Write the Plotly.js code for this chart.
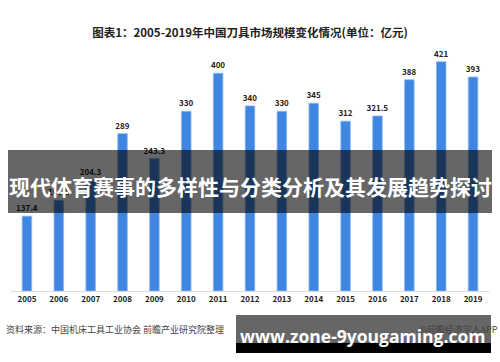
<!DOCTYPE html>
<html>
<head>
<meta charset="utf-8">
<script src="https://cdn.plot.ly/plotly-3.0.1.min.js"></script>
<style>html,body{margin:0;padding:0;background:#fff;}#chart{width:500px;height:362px;}</style>
</head>
<body>
<div id="chart"></div>
<script>
const years = ['2005','2006','2007','2008','2009','2010','2011','2012','2013','2014','2015','2016','2017','2018','2019'];
const marketSize = [137.4, 166.6, 204.3, 289, 243.3, 330, 400, 340, 330, 345, 312, 321.5, 388, 421, 393];
const valueLabels = ['137.4','166.6','204.3','289','243.3','330','400','340','330','345','312','321.5','388','421','393'];
const chartTitle = '图表1：2005-2019年中国刀具市场规模变化情况(单位：亿元)';
const sourceText = '资料来源：中国机床工具工业协会 前瞻产业研究院整理';
const creditText = '@前瞻经济学人APP';
const bannerText = '现代体育赛事的多样性与分类分析及其发展趋势探讨';
const urlText = 'www.zone-9yougaming.com';

const W = 500, H = 362;
const mL = 11, mR = 11, mT = 46, mB = 71;
const pw = W - mL - mR, ph = H - mT - mB;
const px = x => (x - mL) / pw;
const py = y => (H - mB - y) / ph;

const font = '"Noto Sans CJK SC", "Noto Sans", sans-serif';

const trace = {
  type: 'bar',
  x: years,
  y: marketSize,
  text: valueLabels,
  textposition: 'outside',
  constraintext: 'none',
  cliponaxis: false,
  textfont: {family: font, size: 8, color: '#222', weight: 'bold'},
  marker: {color: '#3f86e2', line: {color: '#8fb8ef', width: 0.8}},
  hoverinfo: 'skip'
};

const layout = {
  width: W, height: H,
  margin: {l: mL, r: mR, t: mT, b: mB},
  paper_bgcolor: '#ffffff',
  plot_bgcolor: '#ffffff',
  bargap: 0.7,
  showlegend: false,
  title: {
    text: '<b>' + chartTitle + '</b>',
    font: {family: font, size: 11.5, color: '#222'},
    x: 0.5, xanchor: 'center',
    y: 1 - 33 / H, yref: 'container', yanchor: 'middle'
  },
  xaxis: {
    type: 'category',
    showgrid: false,
    zeroline: false,
    showline: true,
    linecolor: '#d9d9d9',
    linewidth: 1,
    ticks: '',
    tickfont: {family: font, size: 8, color: '#222', weight: 'bold'},
    fixedrange: true
  },
  yaxis: {
    range: [0, 450],
    visible: false,
    fixedrange: true
  },
  shapes: [
    {type: 'rect', xref: 'paper', yref: 'paper', x0: px(8), x1: px(492), y0: py(213), y1: py(150),
     fillcolor: 'rgba(0,0,0,0.6)', line: {width: 0}, layer: 'above'},
    {type: 'rect', xref: 'paper', yref: 'paper', x0: px(236), x1: px(491), y0: py(343), y1: py(315),
     fillcolor: 'rgba(0,0,0,0.6)', line: {width: 0}, layer: 'above'},
    {type: 'rect', xref: 'paper', yref: 'paper', x0: px(236), x1: px(491), y0: py(353), y1: py(343),
     fillcolor: '#000000', line: {width: 0}, layer: 'above'}
  ],
  annotations: [
    {text: '<b>' + bannerText + '</b>', xref: 'paper', yref: 'paper', x: px(250), y: py(186),
     xanchor: 'center', yanchor: 'middle', showarrow: false,
     font: {family: font, size: 21, color: '#ffffff'}},
    {text: sourceText, xref: 'paper', yref: 'paper', x: px(4), y: py(329),
     xanchor: 'left', yanchor: 'middle', showarrow: false,
     font: {family: font, size: 9, color: '#444'}},
    {text: creditText, xref: 'paper', yref: 'paper', x: px(500), y: py(329),
     xanchor: 'right', yanchor: 'middle', showarrow: false,
     font: {family: font, size: 9, color: '#444'}},
    {text: '<b>' + urlText + '</b>', xref: 'paper', yref: 'paper', x: px(362), y: py(336),
     xanchor: 'center', yanchor: 'middle', showarrow: false,
     font: {family: '"Open Sans", "DejaVu Sans", sans-serif', size: 17.5, color: '#ffffff'}}
  ]
};

Plotly.newPlot('chart', [trace], layout, {displayModeBar: false, staticPlot: true});
</script>
</body>
</html>
